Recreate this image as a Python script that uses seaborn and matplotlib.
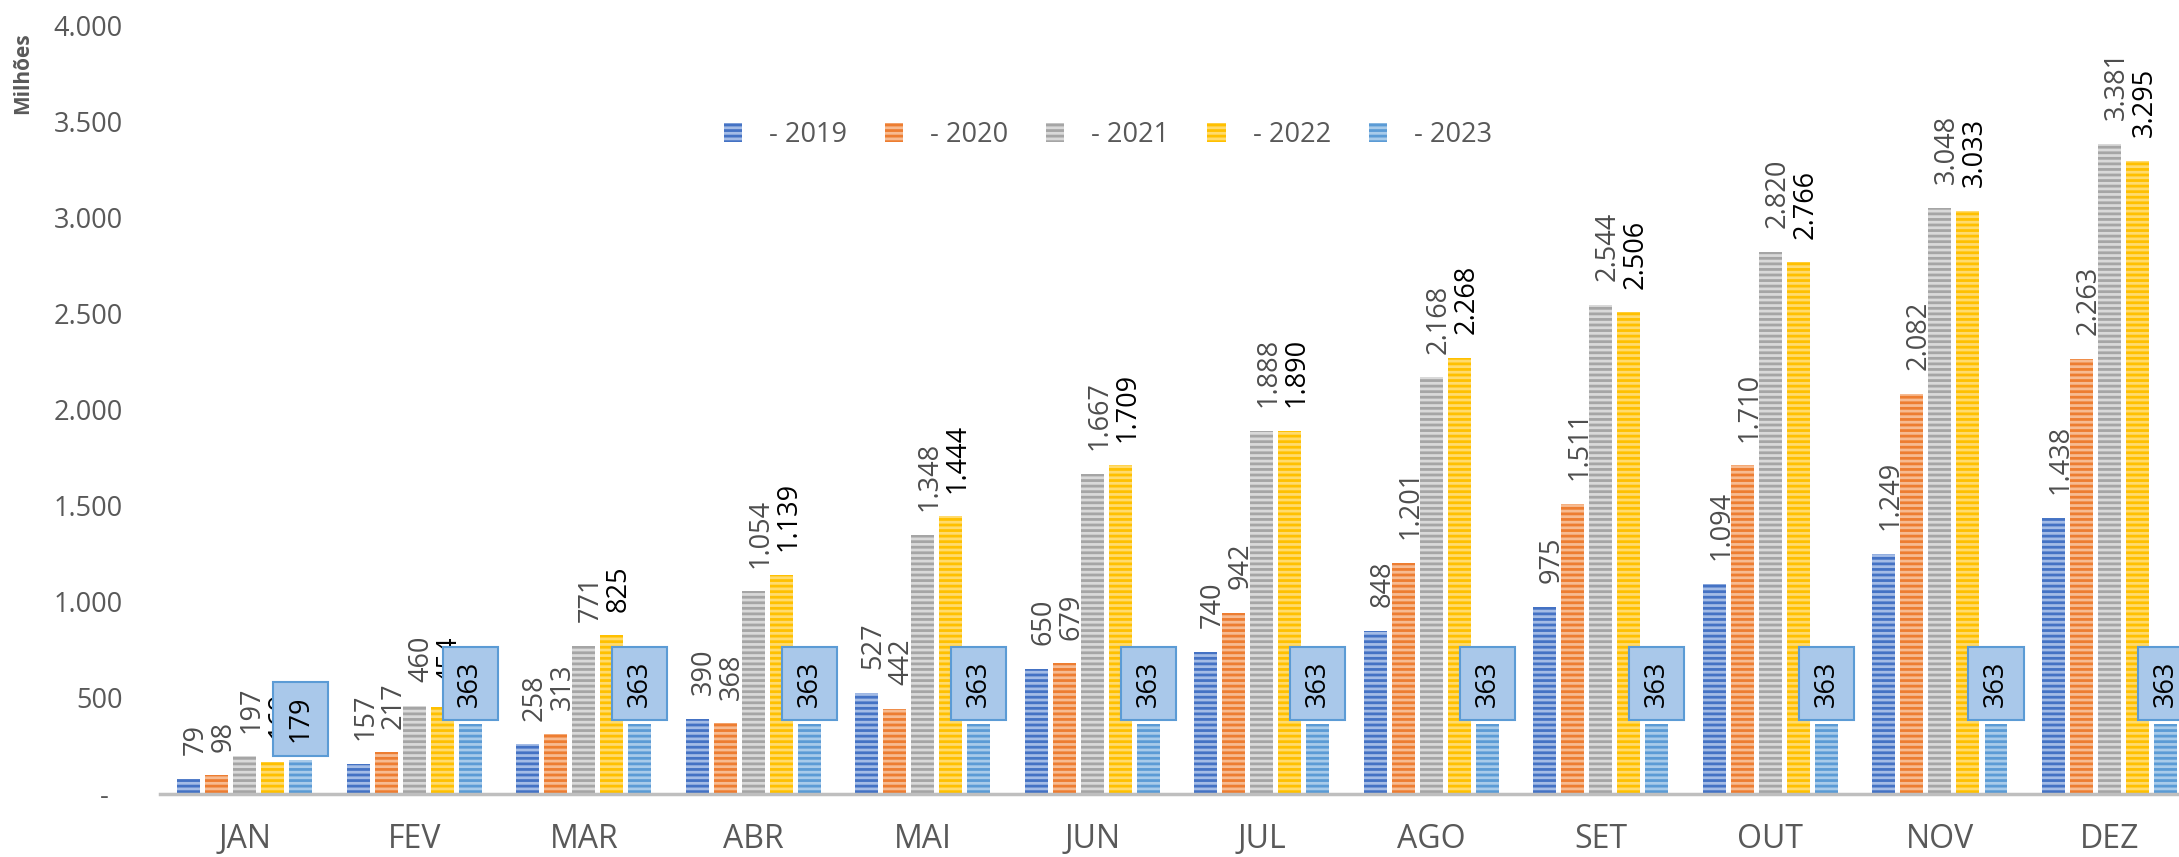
import numpy as np
import pandas as pd
import seaborn as sns
import matplotlib.pyplot as plt

# Monthly cumulative values (millions) per year
months = ["JAN", "FEV", "MAR", "ABR", "MAI", "JUN", "JUL", "AGO", "SET", "OUT", "NOV", "DEZ"]
years = ["2019", "2020", "2021", "2022", "2023"]

v2019 = [79, 157, 258, 390, 527, 650, 740, 848, 975, 1094, 1249, 1438]
v2020 = [98, 217, 313, 368, 442, 679, 942, 1201, 1511, 1710, 2082, 2263]
v2021 = [197, 460, 771, 1054, 1348, 1667, 1888, 2168, 2544, 2820, 3048, 3381]
v2022 = [169, 454, 825, 1139, 1444, 1709, 1890, 2268, 2506, 2766, 3033, 3295]
v2023 = [179, 363, 363, 363, 363, 363, 363, 363, 363, 363, 363, 363]
series = [v2019, v2020, v2021, v2022, v2023]

yticks = [0, 500, 1000, 1500, 2000, 2500, 3000, 3500, 4000]

base_colors = ["#4472C4", "#ED7D31", "#A5A5A5", "#FFC000", "#5B9BD5"]
light_colors = ["#A4BCE6", "#F7BB91", "#D9D9D9", "#FFDB6E", "#A8CBEA"]

df = pd.DataFrame({
    "mes": months * len(years),
    "ano": np.repeat(years, len(months)),
    "valor": sum(series, []),
})


def fmt(v):
    return f"{v:,.0f}".replace(",", ".")


sns.set_theme(style="white")
plt.rcParams["font.family"] = ["Open Sans", "DejaVu Sans"]
plt.rcParams["hatch.linewidth"] = 2.0

grey = "#595959"

fig = plt.figure(figsize=(21.79, 8.57), dpi=100)
ax = fig.add_axes([160 / 2179, 63 / 857, 2019 / 2179, 769 / 857])

sns.barplot(data=df, x="mes", y="valor", hue="ano", order=months, hue_order=years,
            palette=base_colors, saturation=1, width=0.826, gap=0.18,
            legend=False, ax=ax)

# striped fill like the Excel pattern
for i, cont in enumerate(ax.containers):
    for p in cont:
        p.set_facecolor(light_colors[i])
        p.set_edgecolor(base_colors[i])
        p.set_linewidth(0)
        p.set_hatch("---")

# data labels
for i, cont in enumerate(ax.containers):
    for bar, v in zip(cont, series[i]):
        x = bar.get_x() + bar.get_width() / 2
        y = bar.get_height()
        if i < 4:
            ax.annotate(fmt(v), (x, y), xytext=(5, 17), textcoords="offset points",
                        rotation=90, ha="center", va="bottom", fontsize=19.5,
                        color="#4d4d4d" if i < 3 else "black")
        else:
            ax.annotate(fmt(v), (x, y), xytext=(0, 12.5), textcoords="offset points",
                        rotation=90, ha="center", va="bottom", fontsize=19.5,
                        color="black", zorder=5,
                        bbox=dict(boxstyle="square,pad=0.5", fc="#A9C8EA",
                                  ec="#5B9BD5", lw=1.5))

ax.set_xlim(-0.5, 11.41)
ax.set_ylim(0, 4000)
ax.set_yticks(yticks)
ax.set_yticklabels([fmt(t) if t else "-  " for t in yticks])
ax.set_xlabel("")
ax.set_ylabel("")
ax.tick_params(axis="y", length=0, pad=27, labelsize=19.5, labelcolor=grey)
ax.tick_params(axis="x", length=0, pad=21, labelsize=23, labelcolor=grey)

for s in ["left", "top", "right"]:
    ax.spines[s].set_visible(False)
ax.spines["bottom"].set_color("#BFBFBF")
ax.spines["bottom"].set_linewidth(2.5)

ax.legend(ax.containers, ["- " + y for y in years], loc="center",
          bbox_to_anchor=(1108 / 2179, 1 - 135 / 857), bbox_transform=fig.transFigure,
          ncol=5, frameon=False, fontsize=19.5, labelcolor=grey,
          handlelength=0.67, handleheight=0.67, handletextpad=1.0, columnspacing=1.4)

fig.text(23 / 2179, 1 - 73 / 857, "Milhões", rotation=90, fontsize=15,
         fontweight="bold", color=grey, ha="center", va="center")

fig.savefig("out.png", dpi=100)
